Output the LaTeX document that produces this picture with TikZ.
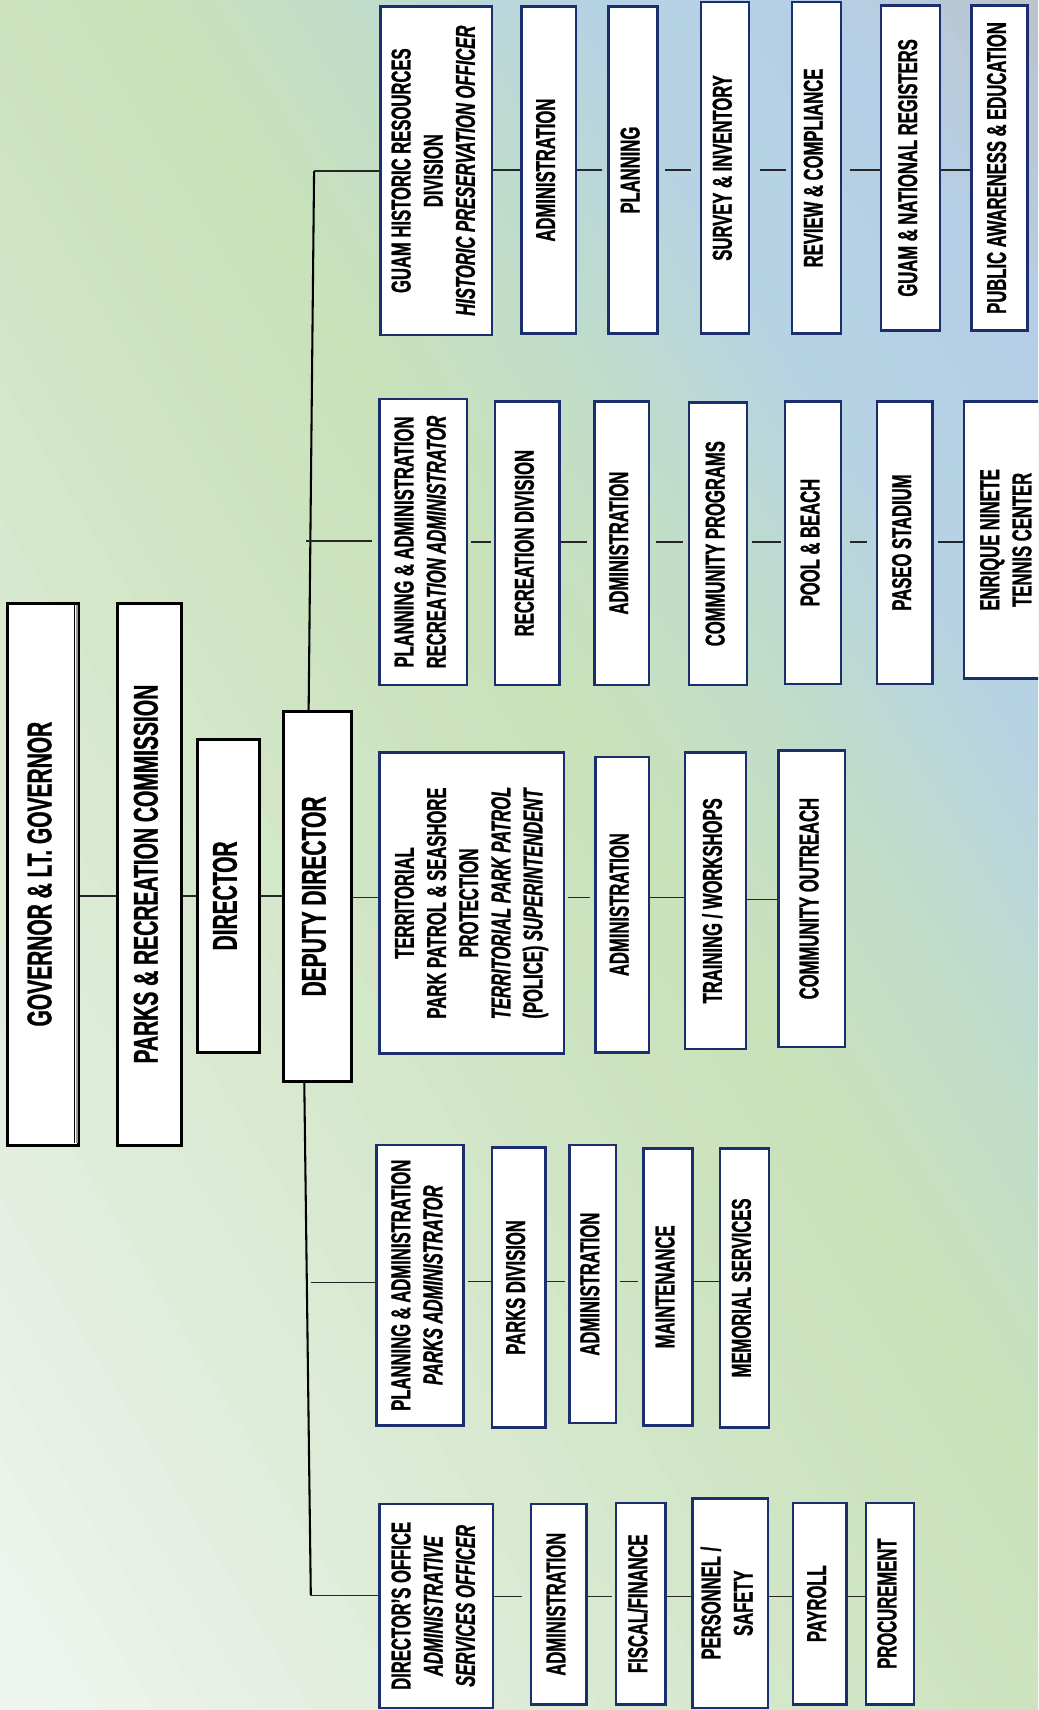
\documentclass[tikz,border=0pt]{standalone}
\usepackage{fontspec}
\setmainfont[FakeStretch=0.61,FakeBold=1]{Liberation Sans}
\usepackage{graphicx}
\definecolor{g0}{HTML}{EFF5F2}
\definecolor{g1}{HTML}{DDEBD6}
\definecolor{g2}{HTML}{CEE4C2}
\definecolor{g3}{HTML}{C9E2BA}
\definecolor{g4}{HTML}{BFDCCB}
\definecolor{g5}{HTML}{B6D3E4}
\definecolor{g6}{HTML}{B5CFE6}
\definecolor{g7}{HTML}{BDC3CA}
\definecolor{navy}{HTML}{1B2E6E}
\newcommand\rwfont{\fontsize{25}{29.5}\selectfont\bfseries}
\newcommand\ttlfont{\fontsize{31.5}{38}\selectfont\bfseries}
\tikzset{
  rowbox/.style={draw=navy, line width=2.3pt, fill=white, inner sep=0pt, font=\rwfont},
  titlebox/.style={draw=black, line width=2.8pt, fill=white, inner sep=0pt, font=\ttlfont},
  link/.style={draw=black!85, line width=1.4pt},
  bus/.style={draw=black, line width=1.9pt},
}
\newcommand\obox[7]{\node[#1, minimum width={#5-#3}, minimum height={#6-#4}] (#2) at ({(#3+#5)/2},{(#4+#6)/2}) {\rotatebox{90}{\begin{tabular}{@{}c@{}}#7\end{tabular}}};}
\newcommand\conn[4][]{\draw[link,#1] (#2.east |- #4) -- (#3.west |- #4);}
\begin{document}
\begin{tikzpicture}[x=1pt,y=-1pt]
\useasboundingbox (0,0) rectangle (952,1568);
\begin{scope}
\clip (0,0) rectangle (952,1568);
% background gradient
\begin{scope}[x=1pt,y=1pt,shift={(0pt,-1568pt)},rotate=31.26]
\foreach \a/\b/\ca/\cb in {0/0.25/g0/g1, 0.25/0.45/g1/g2, 0.45/0.57/g2/g3, 0.57/0.68/g3/g4, 0.68/0.78/g4/g5, 0.78/0.9/g5/g6, 0.9/1.0/g6/g7}{
  \foreach \k in {0,...,9}{
    \pgfmathsetmacro\xa{1627.6*(\a+(\b-\a)*\k/10)-0.6}
    \pgfmathsetmacro\xb{1627.6*(\a+(\b-\a)*(\k+1)/10)+0.6}
    \pgfmathtruncatemacro\pc{95-10*\k}
    \fill[\ca!\pc!\cb] (\xa,-520) -- (\xb,-520) -- (\xb,1360) -- (\xa,1360) -- cycle;
  }
}
\end{scope}

% top chain
\obox{titlebox}{gov}{7}{553}{72}{1050}{GOVERNOR \& LT. GOVERNOR}
\fill[black!40] (69.3,555) rectangle (71.3,1048);
\draw[line width=1.1pt] (68.4,555) -- (68.4,1048);
\obox{titlebox}{com}{108}{553}{166}{1050}{PARKS \& RECREATION COMMISSION}
\obox{titlebox}{dir}{181}{678}{238}{965}{DIRECTOR}
\obox{titlebox}{dd}{260}{652}{322}{992}{DEPUTY DIRECTOR}

% row 1 : historic resources
\obox{rowbox}{h0}{349}{6}{451}{307}{GUAM HISTORIC RESOURCES\\DIVISION\\\textit{HISTORIC PRESERVATION OFFICER}}
\obox{rowbox}{h1}{478}{6}{528}{306}{ADMINISTRATION}
\obox{rowbox}{h2}{558}{6}{603}{306}{PLANNING}
\obox{rowbox}{h3}{643}{2}{687}{306}{SURVEY \& INVENTORY}
\obox{rowbox}{h4}{726}{2}{771}{306}{REVIEW \& COMPLIANCE}
\obox{rowbox}{h5}{808}{5}{862}{303}{GUAM \& NATIONAL REGISTERS}
\obox{rowbox}{h6}{891}{5}{942}{303}{PUBLIC AWARENESS \& EDUCATION}

% row 2 : recreation
\obox{rowbox}{r0}{348}{366}{428}{628}{PLANNING \& ADMINISTRATION\\RECREA\textit{TION ADMINISTRATOR}}
\obox{rowbox}{r1}{454}{368}{513}{628}{RECREATION DIVISION}
\obox{rowbox}{r2}{545}{368}{595}{628}{ADMINISTRATION}
\obox{rowbox}{r3}{632}{369}{685}{628}{COMMUNITY PROGRAMS}
\obox{rowbox}{r4}{720}{368}{771}{627}{POOL \& BEACH}
\obox{rowbox}{r5}{804}{368}{855}{627}{PASEO STADIUM}
\obox{rowbox}{r6}{884}{368}{966}{622}{ENRIQUE NINETE\\TENNIS CENTER}

% row 3 : territorial
\obox{rowbox}{t0}{348}{690}{517}{966}{TERRITORIAL\\PARK PATROL \& SEASHORE\\PROTECTION\\\textit{TERRITORIAL PARK PATROL}\\(POLICE) \textit{SUPERINTENDENT}}
\obox{rowbox}{t1}{546}{694}{595}{965}{ADMINISTRATION}
\obox{rowbox}{t2}{628}{690}{684}{962}{TRAINING / WORKSHOPS}
\obox{rowbox}{t3}{714}{688}{775}{960}{COMMUNITY OUTREACH}

% row 4 : parks
\obox{rowbox}{p0}{345}{1050}{425}{1307}{PLANNING \& ADMINISTRATION\\\textit{PARKS ADMINISTRATOR}}
\obox{rowbox}{p1}{451}{1052}{500}{1309}{PARKS DIVISION}
\obox{rowbox}{p2}{522}{1050}{565}{1305}{ADMINISTRATION}
\obox{rowbox}{p3}{590}{1053}{635}{1307}{MAINTENANCE}
\obox{rowbox}{p4}{660}{1053}{705}{1309}{MEMORIAL SERVICES}

% row 5 : director's office
\obox{rowbox}{d0}{348}{1379}{452}{1566}{DIRECTOR'S OFFICE\\\textit{ADMINISTRATIVE}\\\textit{SERVICES OFFICER}}
\obox{rowbox}{d1}{487}{1379}{538}{1563}{ADMINISTRATION}
\obox{rowbox}{d2}{565}{1378}{610}{1563}{FISCAL/FINANCE}
\obox{rowbox}{d3}{635}{1374}{704}{1566}{PERSONNEL /\\SAFETY}
\obox{rowbox}{d4}{727}{1378}{776}{1563}{PAYROLL}
\obox{rowbox}{d5}{794}{1378}{838}{1563}{PROCUREMENT}

% row lines
\coordinate (ry1) at (0,156);
\coordinate (ry2) at (0,497);
\coordinate (ry3) at (0,823);
\coordinate (ry3b) at (0,825);
\coordinate (ry4) at (0,1175);
\coordinate (ry5) at (0,1464);

% top chain connectors
\conn{gov}{com}{dir}
\conn{com}{dir}{dir}
\conn{dir}{dd}{dir}

% bus
\coordinate (ddt) at (283,652);
\coordinate (bt) at (288,157);
\draw[bus] (ddt) -- (bt);
\draw[link] (bt) -- (bt -| h0.west);
\coordinate (rb) at (281,496);
\draw[link, shorten >=6pt] (rb) -- (rb -| r0.west);
\coordinate (ddb) at (279,992);
\coordinate (bb) at (285,1463);
\draw[bus] (ddb) -- (bb);
\draw[link] (bb) -- (bb -| d0.west);
\coordinate (pb) at (285,1176);
\draw[link] (pb) -- (pb -| p0.west);

% row 1
\conn{h0}{h1}{ry1}
\conn[shorten >=4.5pt]{h1}{h2}{ry1}
\conn[shorten <=6pt, shorten >=8.5pt]{h2}{h3}{ry1}
\conn[shorten <=9pt, shorten >=4.5pt]{h3}{h4}{ry1}
\conn[shorten <=7pt]{h4}{h5}{ry1}
\conn{h5}{h6}{ry1}
% row 2
\conn[shorten <=3pt, shorten >=3pt]{r0}{r1}{ry2}
\conn[shorten >=6pt]{r1}{r2}{ry2}
\conn[shorten <=5pt, shorten >=5pt]{r2}{r3}{ry2}
\conn[shorten <=3pt, shorten >=3pt]{r3}{r4}{ry2}
\conn[shorten <=7pt, shorten >=8pt]{r4}{r5}{ry2}
\conn[shorten <=4pt]{r5}{r6}{ry2}
% row 3
\conn{dd}{t0}{ry3}
\conn[shorten <=2.5pt, shorten >=4pt]{t0}{t1}{ry3}
\conn{t1}{t2}{ry3}
\conn{t2}{t3}{ry3b}
% row 4
\conn[shorten <=3pt]{p0}{p1}{ry4}
\conn[shorten >=3pt]{p1}{p2}{ry4}
\conn[shorten <=2pt, shorten >=4pt]{p2}{p3}{ry4}
\conn{p3}{p4}{ry4}
% row 5
\conn[shorten >=7pt]{d0}{d1}{ry5}
\conn[shorten >=3pt]{d1}{d2}{ry5}
\conn{d2}{d3}{ry5}
\conn{d3}{d4}{ry5}
\conn{d4}{d5}{ry5}
\end{scope}
\end{tikzpicture}
\end{document}
